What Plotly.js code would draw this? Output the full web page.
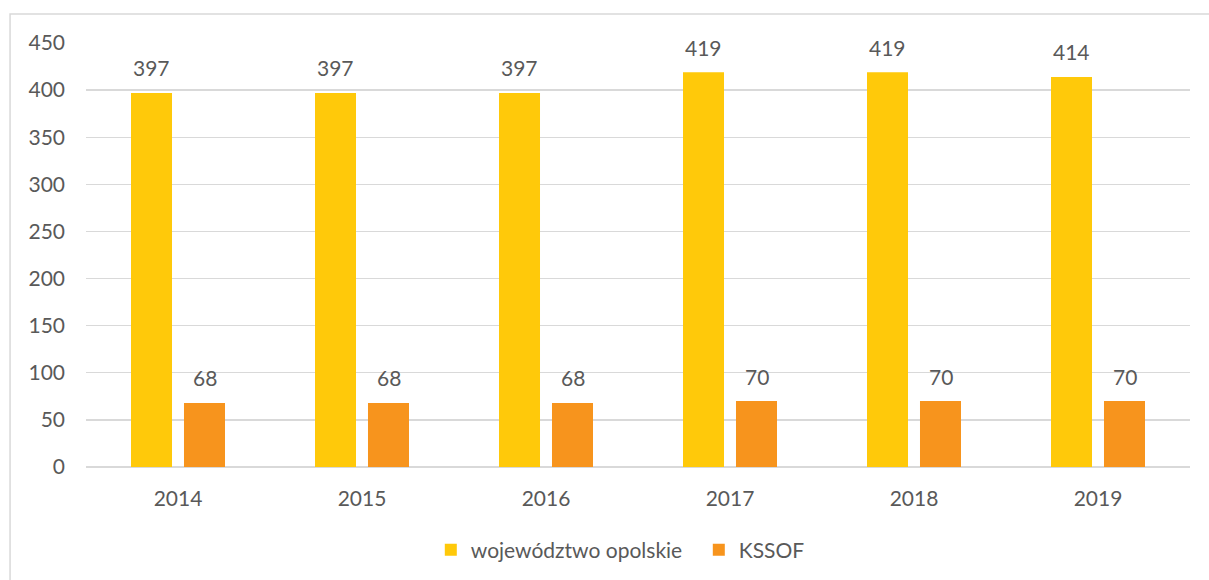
<!DOCTYPE html>
<html>
<head>
<meta charset="utf-8">
<script src="https://cdn.plot.ly/plotly-3.0.1.min.js"></script>
<style>html,body{margin:0;padding:0;background:#fff;}#chart{width:1209px;height:580px;}</style>
</head>
<body>
<div id="chart"></div>
<script>
const categories = ['2014', '2015', '2016', '2017', '2018', '2019'];
const wojewodztwo = [397, 397, 397, 419, 419, 414];
const kssof = [68, 68, 68, 70, 70, 70];
const seriesNames = ['województwo opolskie', 'KSSOF'];
const yTicks = [0, 50, 100, 150, 200, 250, 300, 350, 400, 450];

const FONT = 'Lato, "Open Sans", sans-serif';
const GRAY = '#595959';
const COLORS = ['#FFC90A', '#F7941D'];

const traces = [
  {type: 'bar', name: seriesNames[0], x: categories, y: wojewodztwo, marker: {color: COLORS[0]}, hoverinfo: 'none'},
  {type: 'bar', name: seriesNames[1], x: categories, y: kssof, marker: {color: COLORS[1]}, hoverinfo: 'none'}
];

const annotations = [];
[wojewodztwo, kssof].forEach((arr, si) => {
  arr.forEach((v, i) => {
    annotations.push({
      x: i, y: v, xref: 'x', yref: 'y',
      text: String(v), showarrow: false,
      xshift: si === 0 ? -26.5 : 26.5, yshift: 25,
      yanchor: 'middle',
      font: {family: FONT, size: 21, color: GRAY}
    });
  });
});

const layout = {
  width: 1209, height: 580,
  margin: {l: 86, r: 19, t: 43, b: 113},
  paper_bgcolor: '#fff', plot_bgcolor: '#fff',
  barmode: 'group', bargap: 0.424, bargroupgap: 0.226,
  font: {family: FONT, size: 21, color: GRAY},
  xaxis: {
    type: 'category', range: [-0.5, categories.length - 0.5], automargin: false,
    showgrid: false, zeroline: false, showline: false,
    ticks: '', tickfont: {family: FONT, size: 21, color: GRAY}, ticklabelstandoff: 17, fixedrange: true
  },
  yaxis: {
    range: [0, 450], tickvals: yTicks, ticktext: yTicks.map(String), automargin: false,
    showgrid: true, gridcolor: '#D9D9D9', gridwidth: 1.3,
    zeroline: true, zerolinecolor: '#D9D9D9', zerolinewidth: 1.3,
    showline: false, ticks: '', ticklabelstandoff: 20,
    tickfont: {family: FONT, size: 21, color: GRAY}, fixedrange: true
  },
  showlegend: true,
  legend: {
    orientation: 'h', xref: 'container', yref: 'container',
    x: 0.578, xanchor: 'center', y: 0.0517, yanchor: 'middle',
    font: {family: FONT, size: 21, color: GRAY}, itemwidth: 30, traceorder: 'normal',
    entrywidth: 223
  },
  annotations: annotations,
  shapes: [{
    type: 'rect', xref: 'paper', yref: 'paper',
    x0: -0.0688, x1: 1.05, y0: -0.5, y1: 1.0684,
    line: {color: '#D9D9D9', width: 1.5}, fillcolor: 'rgba(0,0,0,0)', layer: 'below'
  }]
};

Plotly.newPlot('chart', traces, layout, {staticPlot: true, displayModeBar: false});
</script>
</body>
</html>
